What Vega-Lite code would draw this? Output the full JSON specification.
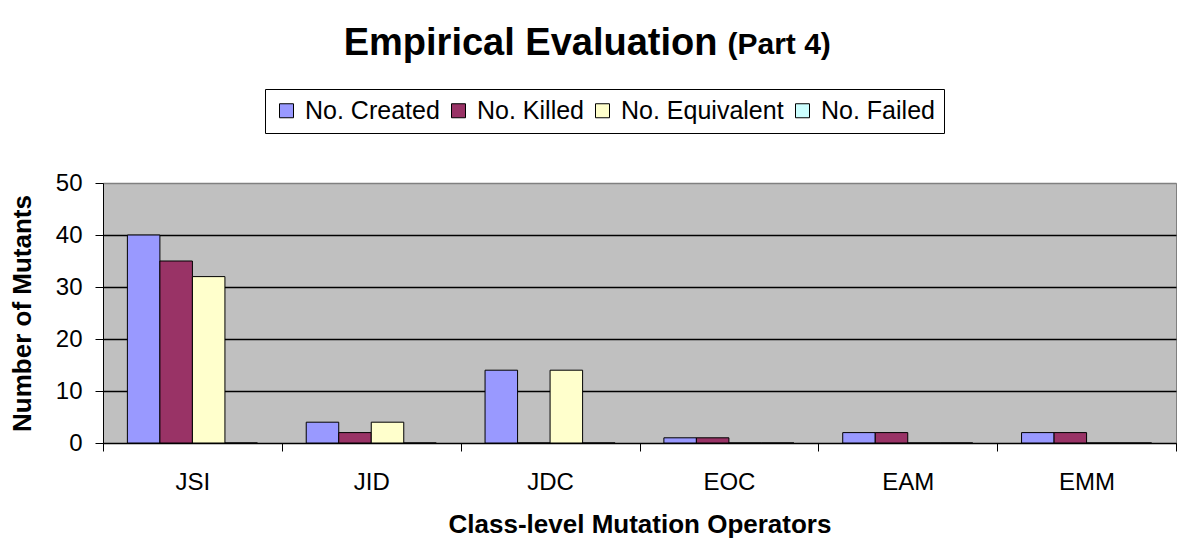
{
  "$schema": "https://vega.github.io/schema/vega-lite/v6.json",
  "width": 1073,
  "height": 260,
  "autosize": {"type": "none"},
  "padding": {"left": 103, "top": 183, "right": 8, "bottom": 99},
  "background": "white",
  "title": {
    "text": "Empirical Evaluation",
    "subtitle": "(Part 4)",
    "anchor": "middle",
    "frame": "group",
    "align": "left",
    "dx": 88,
    "offset": 26,
    "font": "Liberation Sans",
    "fontSize": 38,
    "fontWeight": "bold",
    "color": "black",
    "subtitleFont": "Liberation Sans",
    "subtitleFontSize": 30,
    "subtitleFontWeight": "bold",
    "subtitleColor": "black",
    "subtitlePadding": -33,
    "encoding": {"align": {"value": "right"}, "dx": {"value": 78}}
  },
  "data": {
    "values": [
      {"operator": "JSI", "series": "No. Created", "count": 40},
      {"operator": "JSI", "series": "No. Killed", "count": 35},
      {"operator": "JSI", "series": "No. Equivalent", "count": 32},
      {"operator": "JSI", "series": "No. Failed", "count": 0},
      {"operator": "JID", "series": "No. Created", "count": 4},
      {"operator": "JID", "series": "No. Killed", "count": 2},
      {"operator": "JID", "series": "No. Equivalent", "count": 4},
      {"operator": "JID", "series": "No. Failed", "count": 0},
      {"operator": "JDC", "series": "No. Created", "count": 14},
      {"operator": "JDC", "series": "No. Killed", "count": 0},
      {"operator": "JDC", "series": "No. Equivalent", "count": 14},
      {"operator": "JDC", "series": "No. Failed", "count": 0},
      {"operator": "EOC", "series": "No. Created", "count": 1},
      {"operator": "EOC", "series": "No. Killed", "count": 1},
      {"operator": "EOC", "series": "No. Equivalent", "count": 0},
      {"operator": "EOC", "series": "No. Failed", "count": 0},
      {"operator": "EAM", "series": "No. Created", "count": 2},
      {"operator": "EAM", "series": "No. Killed", "count": 2},
      {"operator": "EAM", "series": "No. Equivalent", "count": 0},
      {"operator": "EAM", "series": "No. Failed", "count": 0},
      {"operator": "EMM", "series": "No. Created", "count": 2},
      {"operator": "EMM", "series": "No. Killed", "count": 2},
      {"operator": "EMM", "series": "No. Equivalent", "count": 0},
      {"operator": "EMM", "series": "No. Failed", "count": 0}
    ]
  },
  "mark": {"type": "bar", "stroke": "black", "strokeWidth": 1},
  "encoding": {
    "x": {
      "field": "operator",
      "type": "nominal",
      "sort": ["JSI", "JID", "JDC", "EOC", "EAM", "EMM"],
      "scale": {"paddingInner": 0, "paddingOuter": 0},
      "axis": {
        "title": "Class-level Mutation Operators",
        "titleFont": "Liberation Sans",
        "titleFontSize": 26,
        "titleFontWeight": "bold",
        "titleColor": "black",
        "titlePadding": 17,
        "labelAngle": 0,
        "labelFont": "Liberation Sans",
        "labelFontSize": 24,
        "labelColor": "black",
        "labelPadding": 19,
        "tickBand": "extent",
        "tickSize": 8,
        "tickColor": "black",
        "domainColor": "black",
        "grid": false
      }
    },
    "xOffset": {
      "field": "series",
      "type": "nominal",
      "sort": ["No. Created", "No. Killed", "No. Equivalent", "No. Failed"],
      "scale": {"paddingInner": 0, "paddingOuter": 0.75}
    },
    "y": {
      "field": "count",
      "type": "quantitative",
      "scale": {"domain": [0, 50], "nice": false},
      "axis": {
        "title": "Number of Mutants",
        "titleFont": "Liberation Sans",
        "titleFontSize": 26,
        "titleFontWeight": "bold",
        "titleColor": "black",
        "titlePadding": 20,
        "values": [0, 10, 20, 30, 40, 50],
        "labelFont": "Liberation Sans",
        "labelFontSize": 24,
        "labelColor": "black",
        "labelPadding": 13,
        "tickSize": 8,
        "tickColor": "black",
        "domainColor": "black",
        "grid": true,
        "gridColor": {"condition": {"test": "datum.value === 50", "value": "#808080"}, "value": "black"},
        "gridWidth": 1.5,
        "gridOpacity": 1
      }
    },
    "color": {
      "field": "series",
      "type": "nominal",
      "scale": {
        "domain": ["No. Created", "No. Killed", "No. Equivalent", "No. Failed"],
        "range": ["#9999FF", "#993366", "#FFFFCC", "#CCFFFF"]
      },
      "legend": {
        "title": null,
        "orient": "none",
        "legendX": 162,
        "legendY": -94,
        "direction": "horizontal",
        "columns": 4,
        "strokeColor": "black",
        "fillColor": "white",
        "padding": 9,
        "symbolType": "square",
        "symbolSize": 196,
        "symbolStrokeColor": "black",
        "symbolStrokeWidth": 1,
        "symbolOpacity": 1,
        "labelFont": "Liberation Sans",
        "labelFontSize": 25,
        "labelColor": "black",
        "labelOffset": 6,
        "labelLimit": 0,
        "columnPadding": 6
      }
    }
  },
  "config": {
    "view": {"fill": "#C0C0C0", "stroke": "#808080", "strokeWidth": 1}
  }
}
